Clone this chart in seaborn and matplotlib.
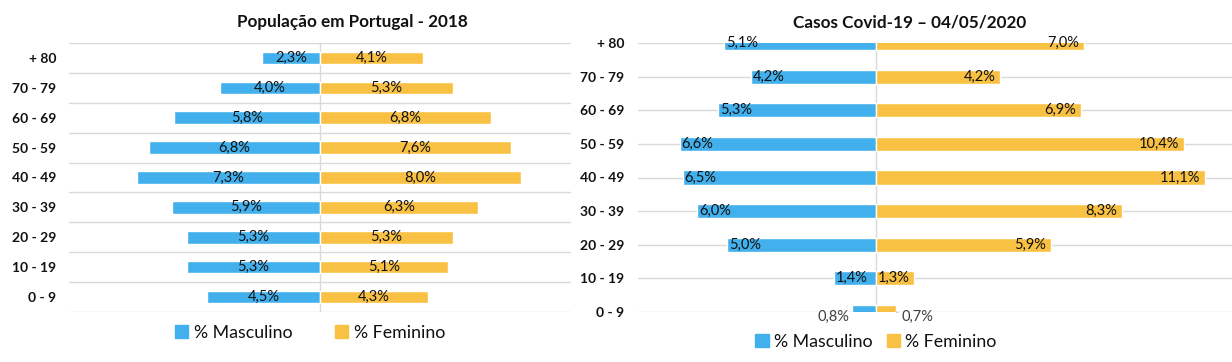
import numpy as np
import pandas as pd
import matplotlib.pyplot as plt
import seaborn as sns
from matplotlib.patches import Patch

# Dados
faixas = ['+ 80', '70 - 79', '60 - 69', '50 - 59', '40 - 49', '30 - 39', '20 - 29', '10 - 19', '0 - 9']
pop_masc = [2.3, 4.0, 5.8, 6.8, 7.3, 5.9, 5.3, 5.3, 4.5]
pop_fem = [4.1, 5.3, 6.8, 7.6, 8.0, 6.3, 5.3, 5.1, 4.3]
covid_masc = [5.1, 4.2, 5.3, 6.6, 6.5, 6.0, 5.0, 1.4, 0.8]
covid_fem = [7.0, 4.2, 6.9, 10.4, 11.1, 8.3, 5.9, 1.3, 0.7]
sexos = ['% Masculino', '% Feminino']
titulos = ['População em Portugal - 2018', 'Casos Covid-19 – 04/05/2020']

azul = '#42B0EC'
amarelo = '#F9C143'
cinza = '#D9D9D9'
texto = '#111111'


def tabela(masc, fem):
    # homens para a esquerda (valores negativos), mulheres para a direita
    return pd.DataFrame({
        'faixa': faixas * 2,
        'valor': [-v for v in masc] + list(fem),
        'sexo': [sexos[0]] * len(faixas) + [sexos[1]] * len(faixas),
    })


def fmt(v):
    return f'{v:.1f}%'.replace('.', ',')


sns.set_theme(style='white')
plt.rcParams['font.family'] = ['Lato', 'DejaVu Sans']

W, H = 1232, 362
fig = plt.figure(figsize=(W / 100, H / 100), dpi=100)
ax1 = fig.add_axes([69 / W, 50 / H, 502 / W, 269 / H])
ax2 = fig.add_axes([638 / W, 50 / H, 594 / W, 269 / H])

for ax, masc, fem in [(ax1, pop_masc, pop_fem), (ax2, covid_masc, covid_fem)]:
    sns.barplot(data=tabela(masc, fem), x='valor', y='faixa', hue='sexo',
                order=faixas, hue_order=sexos, palette=[azul, amarelo],
                dodge=False, width=0.42, orient='h', saturation=1,
                legend=False, ax=ax)
    ax.set_xlabel('')
    ax.set_ylabel('')
    ax.set_xticks([])
    ax.set_axisbelow(True)
    ax.axvline(0, color=cinza, lw=1, zorder=0.5)
    sns.despine(ax=ax, left=True, bottom=True)
    ax.tick_params(axis='y', which='both', length=0, labelsize=10, labelcolor=texto)
    for lbl in ax.get_yticklabels():
        lbl.set_fontweight('bold')

# Pirâmide da população: grelha entre as categorias, rótulos ao centro
ax1.set_xlim(-10, 10)
ax1.set_ylim(8.5, -0.5)
ax1.set_yticks(np.arange(-0.5, 9, 1), minor=True)
ax1.grid(which='minor', axis='y', color=cinza, lw=1)
ax1.tick_params(axis='y', pad=9)
for i, (m, f) in enumerate(zip(pop_masc, pop_fem)):
    ax1.text(-m / 2, i, fmt(m), ha='center', va='center', fontsize=10.5, color=texto)
    ax1.text(f / 2, i, fmt(f), ha='center', va='center', fontsize=10.5, color=texto)

# Casos covid: grelha nas categorias, barras extremas cortadas a meio
ax2.set_xlim(-8, 12)
ax2.set_ylim(8, 0)
ax2.grid(which='major', axis='y', color=cinza, lw=1)
ax2.tick_params(axis='y', pad=10)
ultimo = len(faixas) - 1
for i, (m, f) in enumerate(zip(covid_masc, covid_fem)):
    if i < ultimo:
        ax2.annotate(fmt(m), (-m, i), xytext=(1.5, 0), textcoords='offset points',
                     ha='left', va='center', fontsize=10.5, color=texto)
        ax2.annotate(fmt(f), (f, i), xytext=(-3.5, 0), textcoords='offset points',
                     ha='right', va='center', fontsize=10.5, color=texto)
    else:
        ax2.annotate(fmt(m), (-m, i), xytext=(-1.5, -3.5), textcoords='offset points',
                     ha='right', va='center', fontsize=10.5, color='#404040',
                     annotation_clip=False)
        ax2.annotate(fmt(f), (f, i), xytext=(3.5, -3.5), textcoords='offset points',
                     ha='left', va='center', fontsize=10.5, color='#404040',
                     annotation_clip=False,
                     arrowprops=dict(arrowstyle='-', color='#bfbfbf', lw=0.8,
                                     shrinkA=0, shrinkB=0))

fig.text(352 / W, 1 - 22 / H, titulos[0], ha='center', va='center',
         fontsize=12.3, fontweight='bold', color=texto)
fig.text(910 / W, 1 - 22 / H, titulos[1], ha='center', va='center',
         fontsize=12.3, fontweight='bold', color=texto)

alcas = [Patch(color=azul), Patch(color=amarelo)]
fig.legend(alcas, sexos, loc='center', bbox_to_anchor=(310 / W, 1 - 333 / H),
           ncol=2, frameon=False, fontsize=12.8, handlelength=0.75, handleheight=0.75,
           handletextpad=0.3, columnspacing=2.4, labelcolor=texto)
fig.legend(alcas, sexos, loc='center', bbox_to_anchor=(876 / W, 1 - 342 / H),
           ncol=2, frameon=False, fontsize=12.8, handlelength=0.75, handleheight=0.75,
           handletextpad=0.3, columnspacing=0.8, labelcolor=texto)

fig.savefig('out.png', dpi=100)
